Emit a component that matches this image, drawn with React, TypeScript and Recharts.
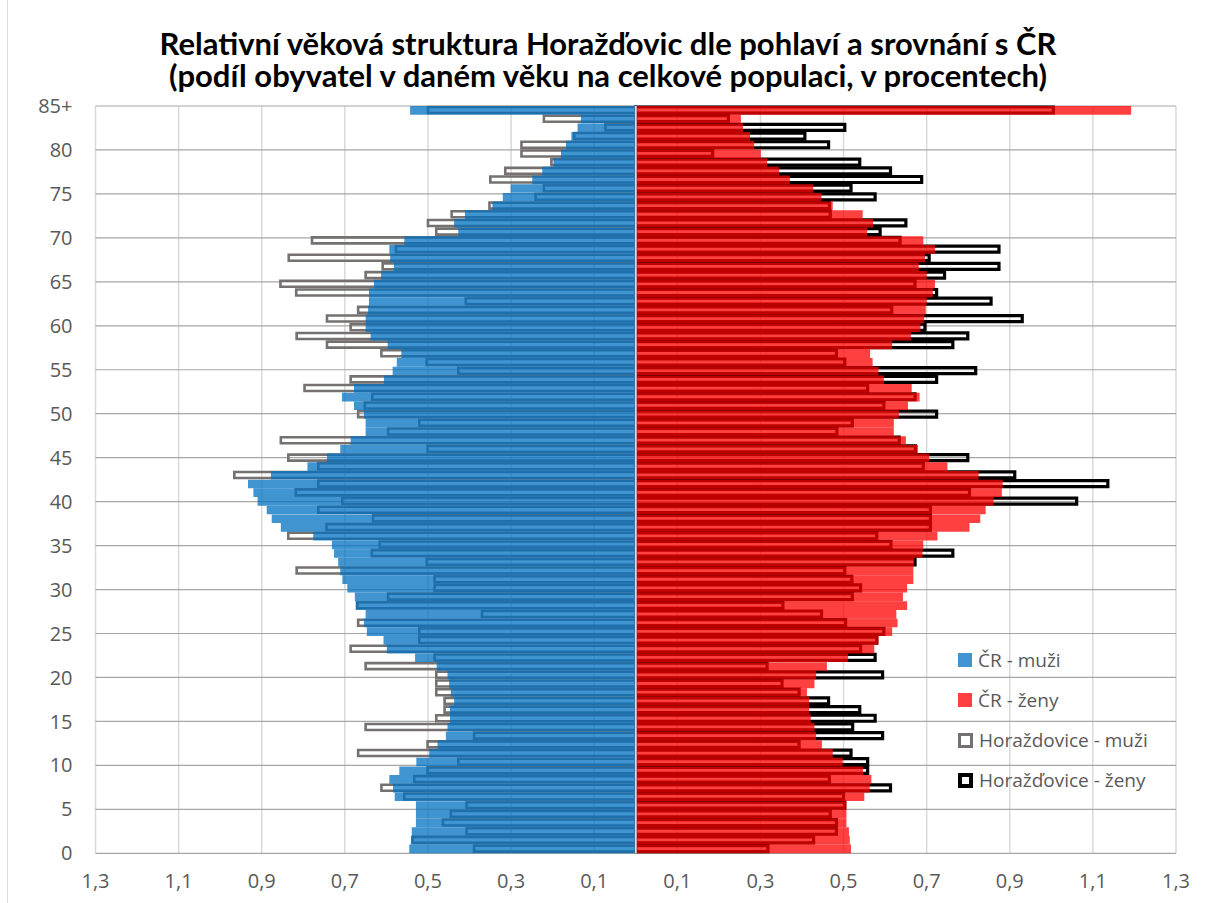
import React from 'react';
import { BarChart, Bar, XAxis, YAxis, CartesianGrid, ReferenceLine, Legend } from 'recharts';

// Age categories, top to bottom
const AGES = ['85+','84','83','82','81','80','79','78','77','76','75','74','73','72','71','70','69','68','67','66','65','64','63','62','61','60','59','58','57','56','55','54','53','52','51','50','49','48','47','46','45','44','43','42','41','40','39','38','37','36','35','34','33','32','31','30','29','28','27','26','25','24','23','22','21','20','19','18','17','16','15','14','13','12','11','10','9','8','7','6','5','4','3','2','1','0'];

const CR_MUZI = [
  0.543, 0.132, 0.140, 0.155, 0.168, 0.180, 0.198, 0.225, 0.249, 0.301,
  0.320, 0.345, 0.411, 0.437, 0.427, 0.557, 0.593, 0.591, 0.582, 0.613,
  0.630, 0.642, 0.642, 0.644, 0.650, 0.650, 0.638, 0.597, 0.564, 0.575,
  0.585, 0.606, 0.678, 0.707, 0.678, 0.654, 0.650, 0.650, 0.686, 0.711,
  0.743, 0.790, 0.878, 0.933, 0.920, 0.910, 0.888, 0.876, 0.854, 0.776,
  0.731, 0.726, 0.716, 0.711, 0.706, 0.694, 0.676, 0.674, 0.650, 0.654,
  0.647, 0.607, 0.599, 0.531, 0.479, 0.453, 0.449, 0.445, 0.437, 0.447,
  0.447, 0.453, 0.457, 0.477, 0.497, 0.528, 0.569, 0.593, 0.584, 0.580,
  0.529, 0.529, 0.529, 0.539, 0.541, 0.545,
];

const CR_ZENY = [
  1.192, 0.253, 0.258, 0.275, 0.285, 0.301, 0.316, 0.345, 0.371, 0.427,
  0.447, 0.474, 0.546, 0.571, 0.557, 0.692, 0.720, 0.696, 0.681, 0.700,
  0.720, 0.715, 0.700, 0.698, 0.694, 0.685, 0.662, 0.617, 0.564, 0.570,
  0.584, 0.597, 0.664, 0.683, 0.655, 0.633, 0.621, 0.621, 0.650, 0.679,
  0.706, 0.750, 0.825, 0.883, 0.881, 0.861, 0.842, 0.829, 0.803, 0.726,
  0.692, 0.690, 0.670, 0.668, 0.668, 0.653, 0.643, 0.653, 0.627, 0.630,
  0.617, 0.584, 0.574, 0.511, 0.460, 0.434, 0.430, 0.412, 0.417, 0.417,
  0.421, 0.430, 0.434, 0.448, 0.474, 0.498, 0.547, 0.567, 0.563, 0.550,
  0.507, 0.507, 0.507, 0.513, 0.515, 0.518,
];

const H_MUZI = [
  0.500, 0.221, 0.073, 0.148, 0.275, 0.275, 0.203, 0.314, 0.350, 0.221,
  0.241, 0.352, 0.443, 0.500, 0.480, 0.779, 0.577, 0.835, 0.609, 0.650,
  0.855, 0.817, 0.409, 0.668, 0.743, 0.686, 0.816, 0.743, 0.612, 0.503,
  0.427, 0.686, 0.797, 0.634, 0.652, 0.668, 0.521, 0.596, 0.854, 0.501,
  0.836, 0.764, 0.966, 0.764, 0.818, 0.706, 0.764, 0.632, 0.744, 0.836,
  0.616, 0.635, 0.503, 0.816, 0.484, 0.484, 0.596, 0.670, 0.370, 0.668,
  0.521, 0.521, 0.686, 0.484, 0.650, 0.480, 0.480, 0.480, 0.460, 0.460,
  0.480, 0.650, 0.389, 0.501, 0.668, 0.427, 0.501, 0.533, 0.612, 0.557,
  0.407, 0.445, 0.464, 0.407, 0.537, 0.389,
];

const H_ZENY = [
  1.005, 0.223, 0.503, 0.407, 0.464, 0.185, 0.539, 0.613, 0.688, 0.518,
  0.576, 0.466, 0.468, 0.650, 0.588, 0.636, 0.874, 0.706, 0.874, 0.743,
  0.672, 0.724, 0.855, 0.616, 0.930, 0.696, 0.799, 0.763, 0.483, 0.503,
  0.818, 0.724, 0.558, 0.672, 0.597, 0.724, 0.521, 0.484, 0.634, 0.673,
  0.799, 0.692, 0.912, 1.136, 0.803, 1.061, 0.709, 0.709, 0.709, 0.580,
  0.614, 0.763, 0.672, 0.503, 0.520, 0.541, 0.521, 0.354, 0.447, 0.505,
  0.597, 0.580, 0.541, 0.576, 0.316, 0.594, 0.352, 0.393, 0.464, 0.539,
  0.576, 0.522, 0.594, 0.393, 0.518, 0.558, 0.558, 0.466, 0.613, 0.500,
  0.503, 0.468, 0.483, 0.483, 0.428, 0.318,
];

const X_TICKS = [-1.3, -1.1, -0.9, -0.7, -0.5, -0.3, -0.1, 0.1, 0.3, 0.5, 0.7, 0.9, 1.1, 1.3];
const Y_TICKS = [0, 5, 10, 15, 20, 25, 30, 35, 40, 45, 50, 55, 60, 65, 70, 75, 80, 85];

const TITLE_1 = 'Relativní věková struktura Horažďovic dle pohlaví a srovnání s ČR';
const TITLE_2 = '(podíl obyvatel v daném věku na celkové populaci, v procentech)';

const LEGEND_ORDER = ['cm', 'cz', 'hm', 'hz'];

const data = AGES.map((age, i) => ({
  age,
  cm: -CR_MUZI[i],
  cz: CR_ZENY[i],
  hm: -H_MUZI[i],
  hz: H_ZENY[i],
}));

const FONT = '"Open Sans", sans-serif';
const TEXT_COLOR = '#595959';

const fmtX = (v: number) => Math.abs(v).toFixed(1).replace('.', ',');
const fmtY = (v: number) => (v === 85 ? '85+' : String(v));

const swatch = (key: string): React.CSSProperties => {
  switch (key) {
    case 'cm':
      return { width: 14, height: 14, background: '#4094D0', boxSizing: 'border-box' };
    case 'cz':
      return { width: 14, height: 14, background: '#FF4040', boxSizing: 'border-box' };
    case 'hm':
      return { width: 15, height: 15, border: '3px solid #767171', boxSizing: 'border-box' };
    default:
      return { width: 15, height: 15, border: '4px solid #000000', boxSizing: 'border-box' };
  }
};

const renderLegend = (props: any) => {
  const items = [...(props.payload || [])].sort(
    (a: any, b: any) => LEGEND_ORDER.indexOf(a.dataKey) - LEGEND_ORDER.indexOf(b.dataKey)
  );
  return (
    <div style={{ fontFamily: FONT, fontSize: 19, color: TEXT_COLOR }}>
      {items.map((it: any) => (
        <div key={it.dataKey} style={{ display: 'flex', alignItems: 'center', height: 40 }}>
          <span style={{ ...swatch(it.dataKey), display: 'inline-block', marginRight: 6 }} />
          <span>{it.value}</span>
        </div>
      ))}
    </div>
  );
};

const titleLine = (top: number): React.CSSProperties => ({
  position: 'absolute',
  left: 0,
  top,
  width: 1216,
  textAlign: 'center',
  fontFamily: 'Lato, sans-serif',
  fontWeight: 700,
  fontSize: 31,
  lineHeight: '31px',
  color: '#000',
  whiteSpace: 'nowrap',
});

export default function App() {
  return (
    <div style={{ position: 'absolute', left: 0, top: 0, width: 1212, height: 903, background: '#fff' }}>
      <div style={titleLine(28)}>{TITLE_1}</div>
      <div style={titleLine(60)}>{TITLE_2}</div>
      <div style={{ position: 'absolute', left: 7, top: 0, width: 1, height: 903, background: '#d9d9d9' }} />
      <BarChart
        width={1212}
        height={903}
        data={data}
        layout="vertical"
        margin={{ top: 106, right: 36, bottom: 9.7, left: 10.5 }}
        barCategoryGap={0}
        barGap={0}
      >
        <CartesianGrid yAxisId="num" horizontal={false} vertical stroke="#d9d9d9" strokeWidth={1.5} />
        <CartesianGrid yAxisId="num" horizontal vertical={false} stroke="#a6a6a6" strokeWidth={1.2} />
        <XAxis
          type="number"
          domain={[-1.3, 1.3]}
          ticks={X_TICKS}
          interval={0}
          tickFormatter={fmtX}
          axisLine={false}
          tickLine={false}
          tickSize={0}
          tickMargin={20}
          height={40}
          allowDataOverflow
          tick={{ fontFamily: FONT, fontSize: 20, fill: TEXT_COLOR }}
        />
        <YAxis
          yAxisId="num"
          type="number"
          orientation="left"
          reversed
          domain={[0, 86]}
          ticks={Y_TICKS}
          interval={0}
          tickFormatter={fmtY}
          axisLine={false}
          tickLine={false}
          tickSize={0}
          tickMargin={23}
          width={85}
          tick={{ fontFamily: FONT, fontSize: 20, fill: TEXT_COLOR }}
        />
        <YAxis yAxisId="hm" type="category" dataKey="age" orientation="right" width={0} hide />
        <YAxis yAxisId="hz" type="category" dataKey="age" orientation="right" width={0} hide />
        <YAxis yAxisId="cm" type="category" dataKey="age" orientation="right" width={0} hide />
        <YAxis yAxisId="cz" type="category" dataKey="age" orientation="right" width={0} hide />
        <Bar
          yAxisId="hm"
          dataKey="hm"
          name="Horaždovice - muži"
          fill="none"
          stroke="#767171"
          strokeWidth={2.6}
          barSize={6}
          isAnimationActive={false}
        />
        <Bar
          yAxisId="hz"
          dataKey="hz"
          name="Horažďovice - ženy"
          fill="none"
          stroke="#000000"
          strokeWidth={3.2}
          barSize={6}
          isAnimationActive={false}
        />
        <Bar yAxisId="cm" dataKey="cm" name="ČR - muži" fill="#0070C0" fillOpacity={0.75} barSize={8.65} isAnimationActive={false} />
        <Bar yAxisId="cz" dataKey="cz" name="ČR - ženy" fill="#FF0000" fillOpacity={0.75} barSize={8.65} isAnimationActive={false} />
        <ReferenceLine yAxisId="num" x={0} stroke="#d9d9d9" strokeWidth={2} />
        <Legend
          layout="vertical"
          align="center"
          verticalAlign="middle"
          content={renderLegend}
          wrapperStyle={{ left: 958, top: 640, width: 240, bottom: 'auto', right: 'auto' }}
        />
      </BarChart>
    </div>
  );
}
